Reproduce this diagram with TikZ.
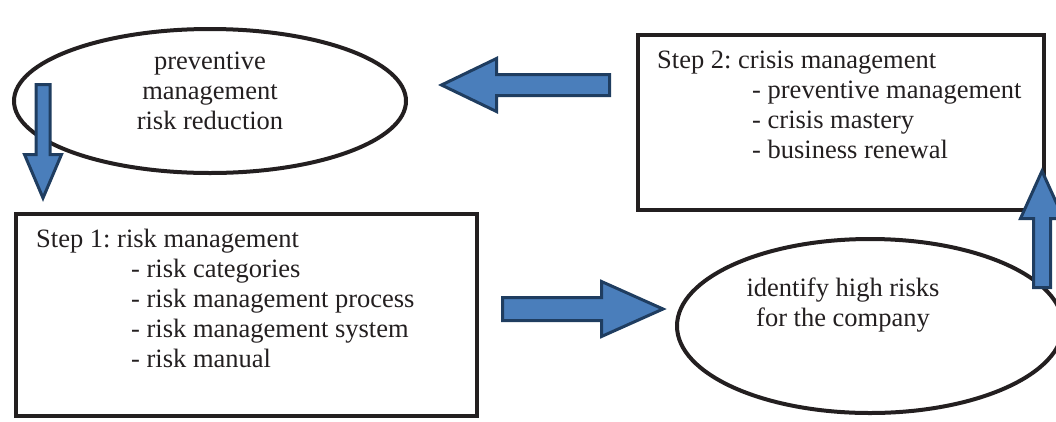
\documentclass[tikz,border=0pt]{standalone}
\usepackage{fontspec}
\setmainfont{Liberation Serif}
\usetikzlibrary{calc,positioning,shapes.geometric}
\frenchspacing

\definecolor{inkdark}{HTML}{231F20}
\definecolor{arrowfill}{HTML}{4A7EBB}
\definecolor{arrowline}{HTML}{1F3D60}

\newcommand{\tabin}{\hspace*{95pt}}
\newcommand{\blockarrow}[5]{%
  \coordinate (#1-neck) at ($(#2)!#5!(#1)$);
  \draw[bigarrow] ($(#1)!#3!90:(#2)$) -- ($(#1-neck)!#3!90:(#2)$)
    -- ($(#1-neck)!#4!90:(#2)$) -- (#2) -- ($(#1-neck)!#4!-90:(#2)$)
    -- ($(#1-neck)!#3!-90:(#2)$) -- ($(#1)!#3!-90:(#2)$) -- cycle;}

\begin{document}
\begin{tikzpicture}[x=1pt, y=-1pt,
    stepbox/.style={rectangle, draw=inkdark, line width=4pt, inner sep=0pt},
    oval/.style={ellipse, draw=inkdark, line width=4pt, inner sep=0pt},
    boxtext/.style={align=left, inner sep=0pt, anchor=north west, text=inkdark,
                    font=\fontsize{26.5}{30}\selectfont},
    ovaltext/.style={align=center, inner sep=0pt, anchor=north, text=inkdark,
                     font=\fontsize{26.5}{30}\selectfont},
    bigarrow/.style={fill=arrowfill, draw=arrowline, line width=3pt, line join=miter}]
    \useasboundingbox (0,0) rectangle (1056,421);

    \node[oval, minimum width=392, minimum height=144] (prevoval) at (210,101) {};
    \node[ovaltext] (prevtext) at ([yshift=49pt]prevoval.center)
        {preventive\\management\\risk reduction};

    \node[stepbox, minimum width=461, minimum height=202] (riskbox) at (246.5,315) {};
    \node[boxtext] (risktext) at ([xshift=22pt, yshift=-17pt]riskbox.north west)
        {Step 1: risk management\\\tabin- risk categories\\\tabin- risk management process\\
         \tabin- risk management system\\\tabin- risk manual};

    \node[stepbox, minimum width=406, minimum height=175] (crisisbox) at (841,122.5) {};
    \node[boxtext] (crisistext) at ([xshift=21pt, yshift=-18pt]crisisbox.north west)
        {Step 2: crisis management\\\tabin- preventive management\\\tabin- crisis mastery\\
         \tabin- business renewal};

    \node[oval, minimum width=386, minimum height=174] (idoval) at (870,326) {};
    \node[ovaltext] (idtext) at ([xshift=-27pt, yshift=48pt]idoval.center)
        {identify high risks\\for the company};

    \coordinate (downtail) at (43,84.5);
    \coordinate (downtip) at (43,198);
    \coordinate (backtail) at (609.5,85);
    \coordinate (backtip) at (441.5,85);
    \coordinate (fwdtail) at (502.5,309);
    \coordinate (fwdtip) at (663,309);
    \coordinate (uptail) at (1042,287.5);
    \coordinate (uptip) at (1042,171);

    \blockarrow{downtail}{downtip}{7pt}{18.5pt}{43.5pt}
    \blockarrow{backtail}{backtip}{10.5pt}{26.5pt}{55pt}
    \blockarrow{fwdtail}{fwdtip}{11.5pt}{27.5pt}{61.5pt}
    \blockarrow{uptail}{uptip}{8.5pt}{21.5pt}{47.5pt}
\end{tikzpicture}
\end{document}
